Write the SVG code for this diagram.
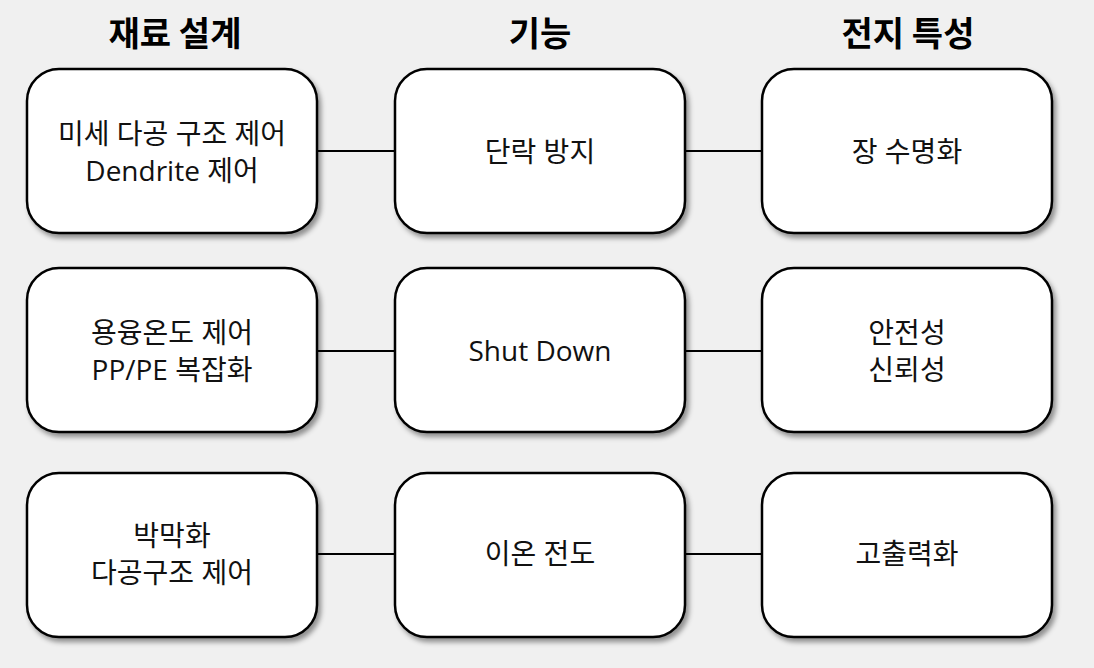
<svg xmlns="http://www.w3.org/2000/svg" width="1094" height="668" viewBox="0 0 1094 668">
<defs>
<filter id="sh" x="-10%" y="-10%" width="130%" height="130%"><feDropShadow dx="3" dy="4" stdDeviation="2.5" flood-color="#000" flood-opacity="0.4"/></filter>
</defs>
<style>
.b{fill:#fff;stroke:#000;stroke-width:2.5;filter:url(#sh)}
.t{font-family:"Open Sans","Noto Sans CJK KR",sans-serif;font-size:28px;text-anchor:middle;fill:#111}
.h{font-family:"Noto Sans CJK KR",sans-serif;font-size:34px;font-weight:bold;text-anchor:middle;fill:#000}
.c{stroke:#000;stroke-width:2}
</style>
<rect width="1094" height="668" fill="#f0f0f0"/>
<text class="h" x="175" y="46">재료 설계</text>
<text class="h" x="540" y="46">기능</text>
<text class="h" x="908" y="46">전지 특성</text>
<g id="connectors">
<line class="c" x1="317" y1="151" x2="395" y2="151"/><line class="c" x1="685" y1="151" x2="762" y2="151"/>
<line class="c" x1="317" y1="351" x2="395" y2="351"/><line class="c" x1="685" y1="351" x2="762" y2="351"/>
<line class="c" x1="317" y1="554" x2="395" y2="554"/><line class="c" x1="685" y1="554" x2="762" y2="554"/>
</g>
<g id="n1"><rect class="b" x="27" y="69" width="290" height="164" rx="32"/><text class="t" x="172" y="144">미세 다공 구조 제어</text><text class="t" x="172" y="181">Dendrite 제어</text></g>
<g id="n2"><rect class="b" x="395" y="69" width="290" height="164" rx="32"/><text class="t" x="540" y="162">단락 방지</text></g>
<g id="n3"><rect class="b" x="762" y="69" width="290" height="164" rx="32"/><text class="t" x="907" y="162">장 수명화</text></g>
<g id="n4"><rect class="b" x="27" y="268" width="290" height="164" rx="32"/><text class="t" x="172" y="343">용융온도 제어</text><text class="t" x="172" y="380">PP/PE 복잡화</text></g>
<g id="n5"><rect class="b" x="395" y="268" width="290" height="164" rx="32"/><text class="t" x="540" y="361">Shut Down</text></g>
<g id="n6"><rect class="b" x="762" y="268" width="290" height="164" rx="32"/><text class="t" x="907" y="343">안전성</text><text class="t" x="907" y="380">신뢰성</text></g>
<g id="n7"><rect class="b" x="27" y="473" width="290" height="164" rx="32"/><text class="t" x="172" y="546">박막화</text><text class="t" x="172" y="583">다공구조 제어</text></g>
<g id="n8"><rect class="b" x="395" y="473" width="290" height="164" rx="32"/><text class="t" x="540" y="564">이온 전도</text></g>
<g id="n9"><rect class="b" x="762" y="473" width="290" height="164" rx="32"/><text class="t" x="907" y="564">고출력화</text></g>
</svg>
